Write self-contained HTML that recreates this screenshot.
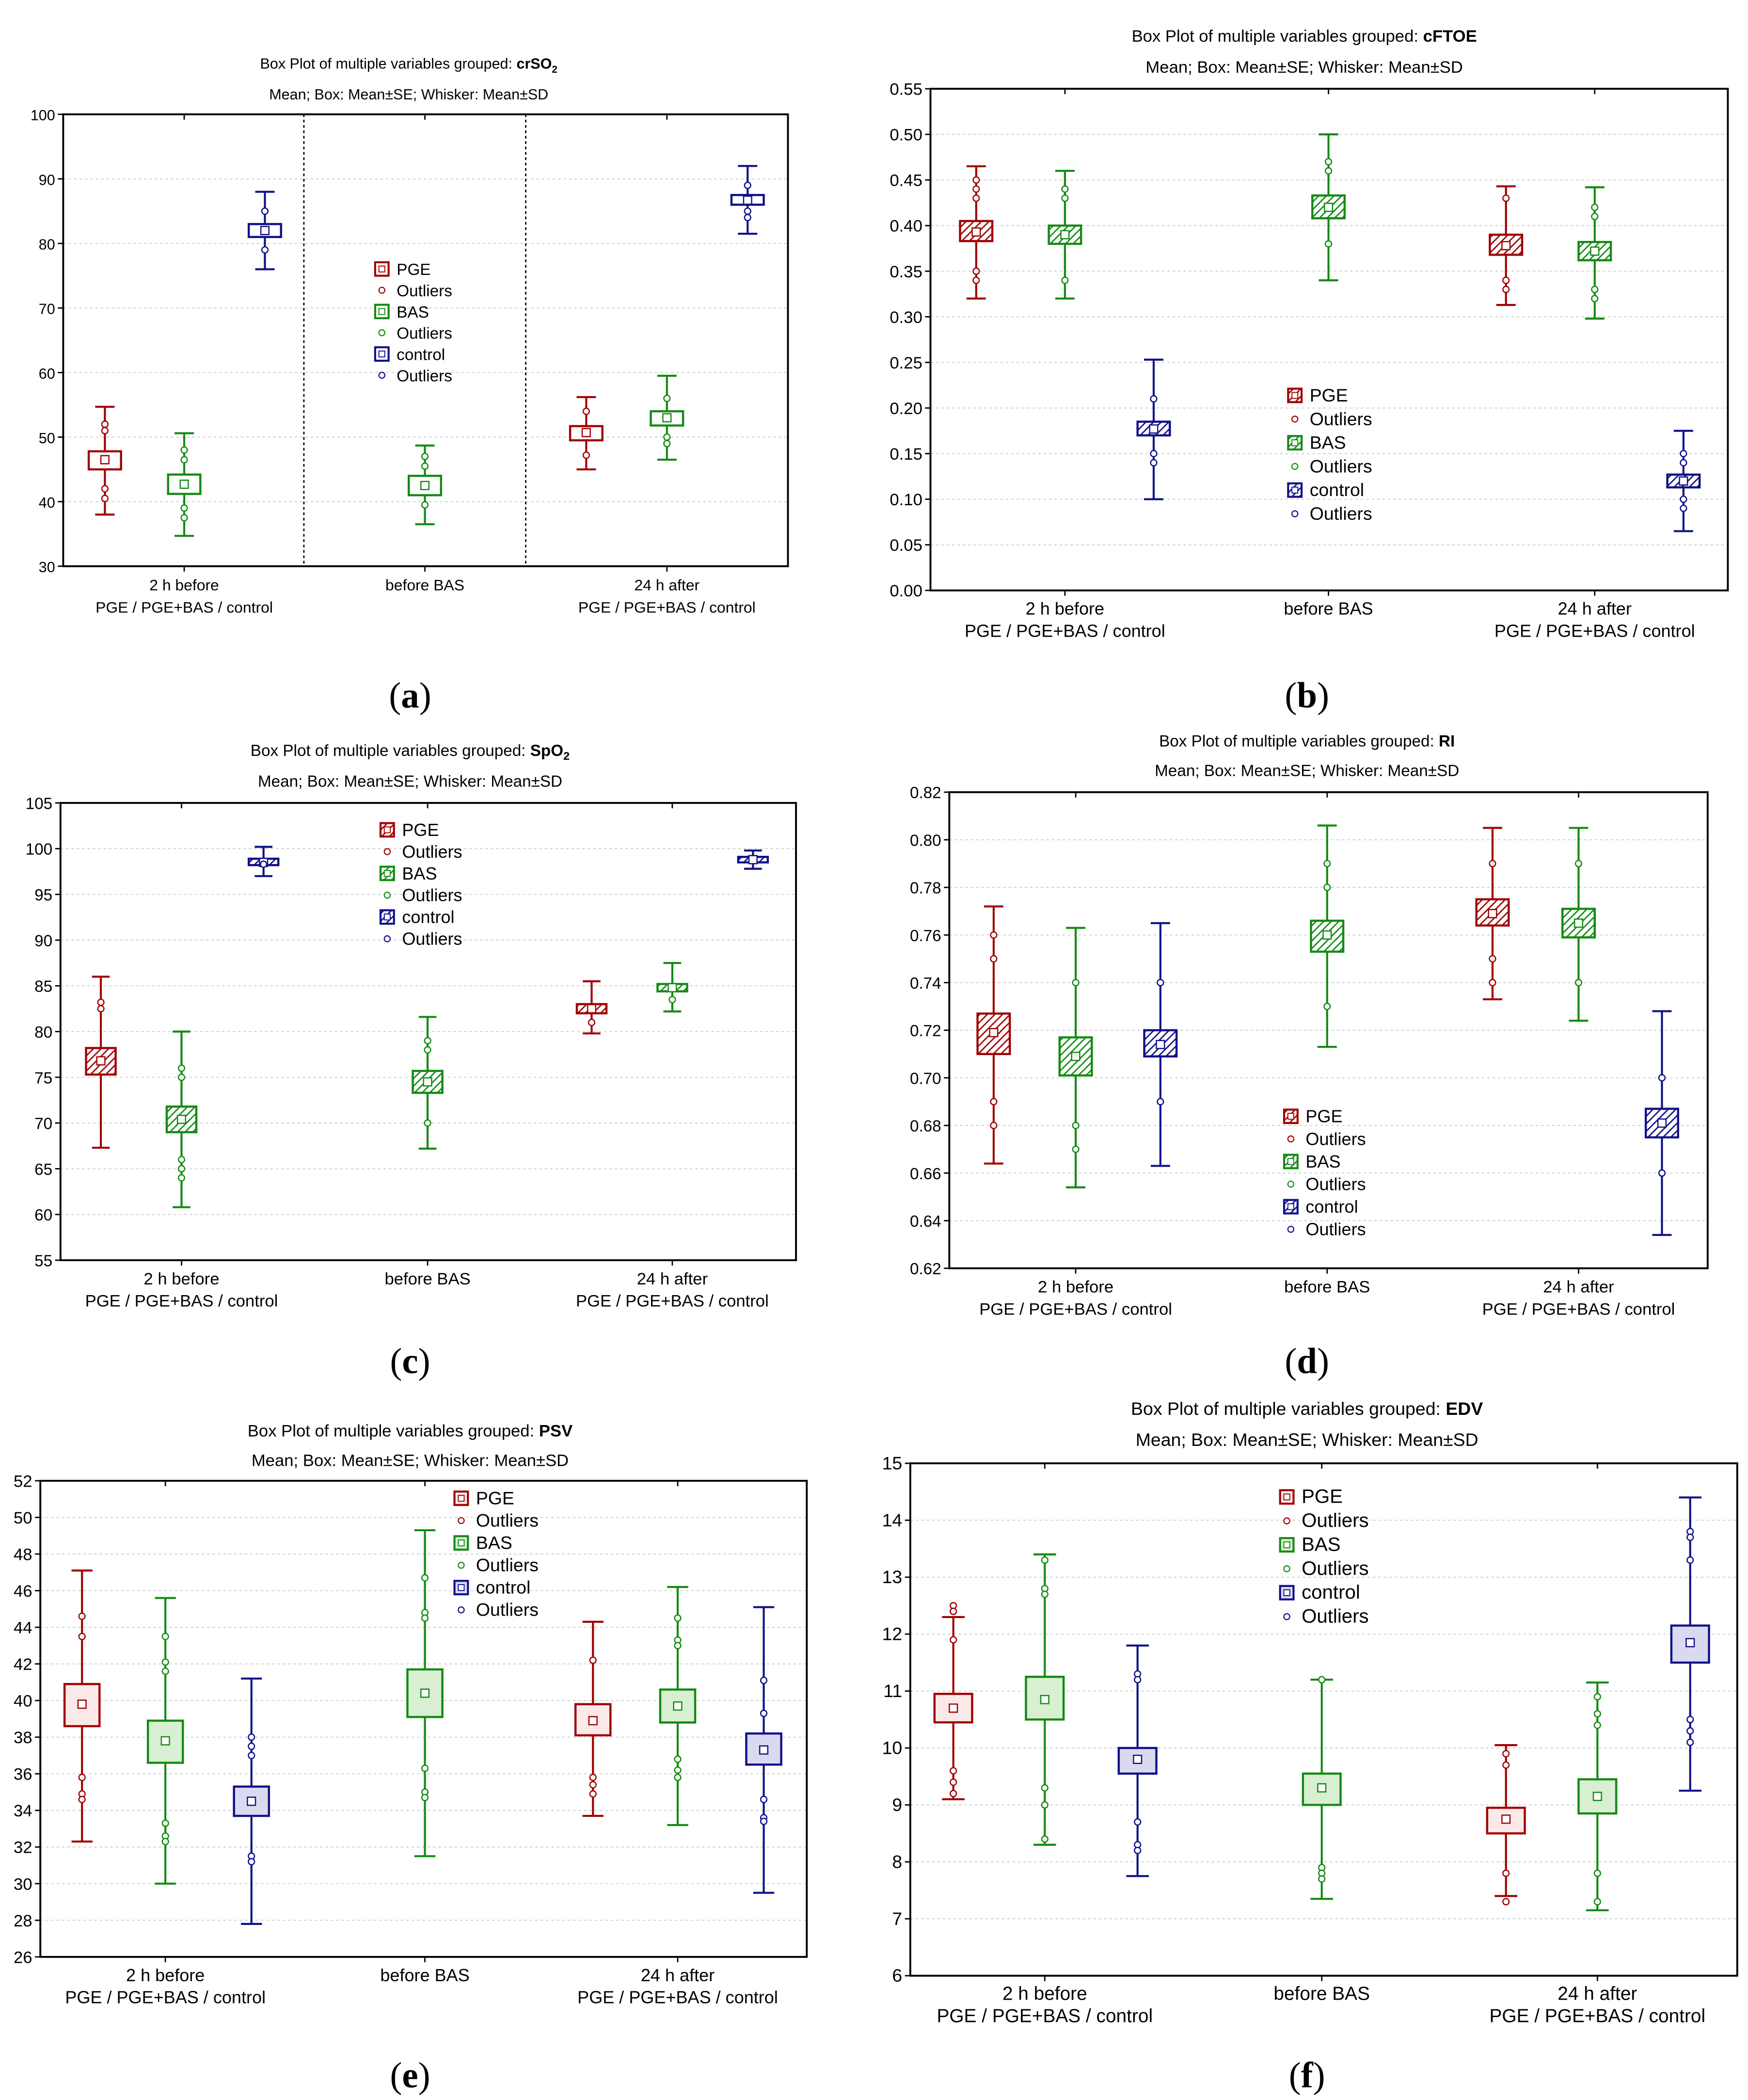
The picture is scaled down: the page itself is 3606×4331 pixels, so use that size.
<!DOCTYPE html>
<html><head><meta charset="utf-8"><style>
html,body{margin:0;padding:0;background:#fff;}
svg{display:block;font-family:"Liberation Sans",Arial,sans-serif;}
</style></head>
<body>
<svg id="fig" xmlns="http://www.w3.org/2000/svg" width="3606" height="4331" viewBox="0 0 1300 1561.4" preserveAspectRatio="none">
<defs>
<pattern id="hr" width="4" height="4" patternUnits="userSpaceOnUse" patternTransform="rotate(45)"><rect width="4" height="4" fill="#fff"/><line x1="0" y1="0" x2="0" y2="4" stroke="#a00000" stroke-width="2"/></pattern>
<pattern id="hg" width="4" height="4" patternUnits="userSpaceOnUse" patternTransform="rotate(45)"><rect width="4" height="4" fill="#fff"/><line x1="0" y1="0" x2="0" y2="4" stroke="#138a13" stroke-width="2"/></pattern>
<pattern id="hb" width="4" height="4" patternUnits="userSpaceOnUse" patternTransform="rotate(45)"><rect width="4" height="4" fill="#fff"/><line x1="0" y1="0" x2="0" y2="4" stroke="#10108a" stroke-width="2"/></pattern>
</defs>
</svg>
<script>
// ---- data (a) crSO2 ----
const aMean=[46.5,42.7,82,42.5,50.7,53,86.7];
const aBoxLo=[45,41.2,81,41,49.5,51.8,86];
const aBoxHi=[47.8,44.2,83,44,51.7,54,87.5];
const aWhLo=[38,34.7,76,36.5,45,46.5,81.5];
const aWhHi=[54.7,50.6,88,48.7,56.2,59.5,92];
const aOut=[[52,51,42,40.5],[48,46.5,39,37.5],[85,79],[47,45.5,39.5],[54,47.2],[56,50,49],[89,85,84]];
const aTicks=[30,40,50,60,70,80,90,100];
// ---- (b) cFTOE ----
const bMean=[.393,.39,.177,.42,.378,.372,.12];
const bBoxLo=[.383,.38,.17,.408,.368,.362,.113];
const bBoxHi=[.405,.40,.185,.433,.39,.382,.127];
const bWhLo=[.32,.32,.10,.34,.313,.298,.065];
const bWhHi=[.465,.46,.253,.50,.443,.442,.175];
const bOut=[[.45,.44,.43,.35,.34],[.44,.43,.34],[.21,.15,.14],[.47,.46,.38],[.43,.34,.33],[.42,.41,.33,.32],[.15,.14,.10,.09]];
const bTicks=[0,.05,.10,.15,.20,.25,.30,.35,.40,.45,.50,.55];
// ---- (c) SpO2 ----
const cMean=[76.8,70.4,98.5,74.5,82.5,84.8,98.8];
const cBoxLo=[75.3,69,98.2,73.3,82,84.4,98.5];
const cBoxHi=[78.2,71.8,98.9,75.7,83,85.2,99.1];
const cWhLo=[67.3,60.8,97,67.2,79.8,82.2,97.8];
const cWhHi=[86,80,100.2,81.6,85.5,87.5,99.8];
const cOut=[[83.2,82.5],[76,75,66,65,64],[98.3],[79,78,70],[81],[83.5],[]];
const cTicks=[55,60,65,70,75,80,85,90,95,100,105];
// ---- (d) RI ----
const dMean=[.719,.709,.714,.76,.769,.765,.681];
const dBoxLo=[.71,.701,.709,.753,.764,.759,.675];
const dBoxHi=[.727,.717,.72,.766,.775,.771,.687];
const dWhLo=[.664,.654,.663,.713,.733,.724,.634];
const dWhHi=[.772,.763,.765,.806,.805,.805,.728];
const dOut=[[.76,.75,.69,.68],[.74,.68,.67],[.74,.69],[.79,.78,.73],[.79,.75,.74],[.79,.74],[.70,.66]];
const dTicks=[.62,.64,.66,.68,.70,.72,.74,.76,.78,.80,.82];
// ---- (e) PSV ----
const eMean=[39.8,37.8,34.5,40.4,38.9,39.7,37.3];
const eBoxLo=[38.6,36.6,33.7,39.1,38.1,38.8,36.5];
const eBoxHi=[40.9,38.9,35.3,41.7,39.8,40.6,38.2];
const eWhLo=[32.3,30,27.8,31.5,33.7,33.2,29.5];
const eWhHi=[47.1,45.6,41.2,49.3,44.3,46.2,45.1];
const eOut=[[44.6,43.5,35.8,34.9,34.6],[43.5,42.1,41.6,33.3,32.6,32.3],[38,37.5,37,31.5,31.2],[46.7,44.8,44.5,36.3,35,34.7],[42.2,35.8,35.4,34.9],[44.5,43.3,43,36.8,36.2,35.8],[41.1,39.3,34.6,33.6,33.4]];
const eTicks=[26,28,30,32,34,36,38,40,42,44,46,48,50,52];
// ---- (f) EDV ----
const fMean=[10.7,10.85,9.8,9.3,8.75,9.15,11.85];
const fBoxLo=[10.45,10.5,9.55,9.0,8.5,8.85,11.5];
const fBoxHi=[10.95,11.25,10.0,9.55,8.95,9.45,12.15];
const fWhLo=[9.1,8.3,7.75,7.35,7.4,7.15,9.25];
const fWhHi=[12.3,13.4,11.8,11.2,10.05,11.15,14.4];
const fOut=[[12.5,12.4,11.9,9.6,9.4,9.2],[13.3,12.8,12.7,9.3,9.0,8.4],[11.3,11.2,8.7,8.3,8.2],[11.2,7.9,7.8,7.7],[9.9,9.7,7.8,7.3],[10.9,10.6,10.4,7.8,7.3],[13.8,13.7,13.3,10.5,10.3,10.1]];
const fTicks=[6,7,8,9,10,11,12,13,14,15];
const groupSeries=[0,1,2,1,0,1,2];
const groupNames=['pge-2h','bas-2h','control-2h','bas-before','pge-24h','bas-24h','control-24h'];

const NS='http://www.w3.org/2000/svg';
const svg=document.getElementById('fig');
const COL=['#a00000','#138a13','#10108a'];
const HATCH=['url(#hr)','url(#hg)','url(#hb)'];
const TINT=['#fbe9e9','#d8efd2','#d9daf0'];
function mk(tag,attrs,parent){const e=document.createElementNS(NS,tag);for(const k in attrs)e.setAttribute(k,attrs[k]);(parent||svg).appendChild(e);return e;}
function txt(s,x,y,size,anchor,parent,weight){const t=mk('text',{x:x,y:y,'font-size':size,'text-anchor':anchor||'middle',fill:'#000'},parent);if(weight)t.setAttribute('font-weight',weight);t.textContent=s;return t;}

const panels=[
 {id:'a',v:'crSO',sub:'2',x0:47,y0:85,x1:586,y1:421,min:30,max:100,ticks:aTicks,dec:0,xs:[78,137,197,316,436,496,556],bw:24,fill:'none',dash:[226,391],mean:aMean,lo:aBoxLo,hi:aBoxHi,wl:aWhLo,wh:aWhHi,out:aOut,lx:284,ly:200,ld:15.8,fs:11.5,tx:304,ty1:51,ty2:74,lab:'(a)',labx:305,laby:526},
 {id:'b',v:'cFTOE',x0:692,y0:66,x1:1285,y1:439,min:0,max:.55,ticks:bTicks,dec:2,xs:[726,792,858,988,1120,1186,1252],bw:24,fill:'hatch',mean:bMean,lo:bBoxLo,hi:bBoxHi,wl:bWhLo,wh:bWhHi,out:bOut,lx:963,ly:294,ld:17.6,fs:13,tx:970,ty1:31,ty2:54,lab:'(b)',labx:972,laby:526},
 {id:'c',v:'SpO',sub:'2',x0:45,y0:597,x1:592,y1:937,min:55,max:105,ticks:cTicks,dec:0,xs:[75,135,196,318,440,500,560],bw:22,fill:'hatch',mean:cMean,lo:cBoxLo,hi:cBoxHi,wl:cWhLo,wh:cWhHi,out:cOut,lx:288,ly:617,ld:16.2,fs:12.5,tx:305,ty1:562,ty2:585,lab:'(c)',labx:305,laby:1021},
 {id:'d',v:'RI',x0:706,y0:589,x1:1270,y1:943,min:.62,max:.82,ticks:dTicks,dec:2,xs:[739,800,863,987,1110,1174,1236],bw:24,fill:'hatch',mean:dMean,lo:dBoxLo,hi:dBoxHi,wl:dWhLo,wh:dWhHi,out:dOut,lx:960,ly:830,ld:16.8,fs:12.5,tx:972,ty1:555,ty2:577,lab:'(d)',labx:972,laby:1021},
 {id:'e',v:'PSV',x0:30,y0:1101,x1:600,y1:1455,min:26,max:52,ticks:eTicks,dec:0,xs:[61,123,187,316,441,504,568],bw:26,fill:'tint',mean:eMean,lo:eBoxLo,hi:eBoxHi,wl:eWhLo,wh:eWhHi,out:eOut,lx:343,ly:1114,ld:16.6,fs:13,tx:305,ty1:1068,ty2:1090,lab:'(e)',labx:305,laby:1552},
 {id:'f',v:'EDV',x0:677,y0:1088,x1:1292,y1:1469,min:6,max:15,ticks:fTicks,dec:0,xs:[709,777,846,983,1120,1188,1257],bw:28,fill:'tint',mean:fMean,lo:fBoxLo,hi:fBoxHi,wl:fWhLo,wh:fWhHi,out:fOut,lx:957,ly:1113,ld:17.8,fs:14,tx:972,ty1:1052,ty2:1075,lab:'(f)',labx:972,laby:1552}
];

panels.forEach(p=>{
 const g=mk('g',{});
 
 
 const y=v=>p.y1-(v-p.min)/(p.max-p.min)*(p.y1-p.y0);
 const t1=mk('text',{x:p.tx,y:p.ty1,'font-size':p.fs-0.5,'text-anchor':'middle'},g);
 
 
 t1.appendChild(document.createTextNode('Box Plot of multiple variables grouped: '));
 const tb=mk('tspan',{'font-weight':'bold'},t1);tb.textContent=p.v;
 if(p.sub){const ts=mk('tspan',{'font-weight':'bold','font-size':p.fs-4,dy:3},t1);ts.textContent=p.sub;}
 const t2=txt('Mean; Box: Mean±SE; Whisker: Mean±SD',p.tx,p.ty2,p.fs-0.5,'middle',g);
 
 
 p.ticks.forEach(v=>{
  const yy=y(v);
  if(v!==p.min&&v!==p.max){const gl=mk('line',{x1:p.x0,x2:p.x1,y1:yy,y2:yy,stroke:'#d0d0d0','stroke-width':0.7,'stroke-dasharray':'2,2'},g);
   
   }
  mk('line',{x1:p.x0-4,x2:p.x0,y1:yy,y2:yy,stroke:'#000','stroke-width':1},g);
  const tl=txt(v.toFixed(p.dec),p.x0-6,yy+4.5,p.fs-0.5,'end',g);
  
  
 });
 if(p.dash)p.dash.forEach(x=>{const dl=mk('line',{x1:x,x2:x,y1:p.y0,y2:p.y1,stroke:'#000','stroke-width':1,'stroke-dasharray':'2,2'},g);
  
  });
 const cx=[p.xs[1],p.xs[3],p.xs[5]];
 const xl=[['2 h before','PGE / PGE+BAS / control'],['before BAS'],['24 h after','PGE / PGE+BAS / control']];
 cx.forEach((x,i)=>{
  mk('line',{x1:x,x2:x,y1:p.y1,y2:p.y1+4,stroke:'#000'},g);mk('line',{x1:x,x2:x,y1:p.y0,y2:p.y0+4,stroke:'#000'},g);
  xl[i].forEach((s,j)=>{const xt=txt(s,x,p.y1+18+j*16.5,p.fs,'middle',g);
   
   });
 });
 p.mean.forEach((m,i)=>{
  const s=groupSeries[i],c=COL[s],x=p.xs[i],hw=p.bw/2,cw=p.bw*0.3;
  const bg=mk('g',{},g);
  
  
  mk('line',{x1:x,x2:x,y1:y(p.wl[i]),y2:y(p.wh[i]),stroke:c,'stroke-width':1.5},bg);
  mk('line',{x1:x-cw,x2:x+cw,y1:y(p.wl[i]),y2:y(p.wl[i]),stroke:c,'stroke-width':1.5},bg);
  mk('line',{x1:x-cw,x2:x+cw,y1:y(p.wh[i]),y2:y(p.wh[i]),stroke:c,'stroke-width':1.5},bg);
  const f=p.fill==='hatch'?HATCH[s]:p.fill==='tint'?TINT[s]:'#fff';
  mk('rect',{x:x-hw,y:y(p.hi[i]),width:p.bw,height:y(p.lo[i])-y(p.hi[i]),fill:f,stroke:c,'stroke-width':1.6},bg);
  mk('rect',{x:x-3,y:y(m)-3,width:6,height:6,fill:'#fff',stroke:c,'stroke-width':0.9},bg);
  p.out[i].forEach(o=>{const oc=mk('circle',{cx:x,cy:y(o),r:2.3,fill:'#fff',stroke:c,'stroke-width':0.9},bg);
   
   });
 });
 mk('rect',{x:p.x0,y:p.y0,width:p.x1-p.x0,height:p.y1-p.y0,fill:'none',stroke:'#000','stroke-width':1.4},g);
 const lg=mk('g',{},g);
 
 
 ['PGE','Outliers','BAS','Outliers','control','Outliers'].forEach((s,k)=>{
  const sr=Math.floor(k/2),c=COL[sr],yy=p.ly+k*p.ld,x=p.lx;
  if(k%2===0){const f=p.fill==='hatch'?HATCH[sr]:p.fill==='tint'?TINT[sr]:'#fff';
   mk('rect',{x:x-5,y:yy-5,width:10,height:10,fill:f,stroke:c,'stroke-width':1.5},lg);
   mk('rect',{x:x-2.2,y:yy-2.2,width:4.4,height:4.4,fill:'#fff',stroke:c,'stroke-width':0.7},lg);}
  else mk('circle',{cx:x,cy:yy,r:2.2,fill:'#fff',stroke:c,'stroke-width':0.8},lg);
  const lt=txt(s,x+11,yy+4.5,p.fs+0.5,'start',lg);
  
  
 });
 const pl=mk('text',{x:p.labx,y:p.laby,'font-size':27,'text-anchor':'middle','font-family':'Liberation Serif, serif'},g);
 
 
 pl.appendChild(document.createTextNode('('));
 const pb=mk('tspan',{'font-weight':'bold'},pl);pb.textContent=p.lab[1];
 pl.appendChild(document.createTextNode(')'));
});
</script>
</body></html>
